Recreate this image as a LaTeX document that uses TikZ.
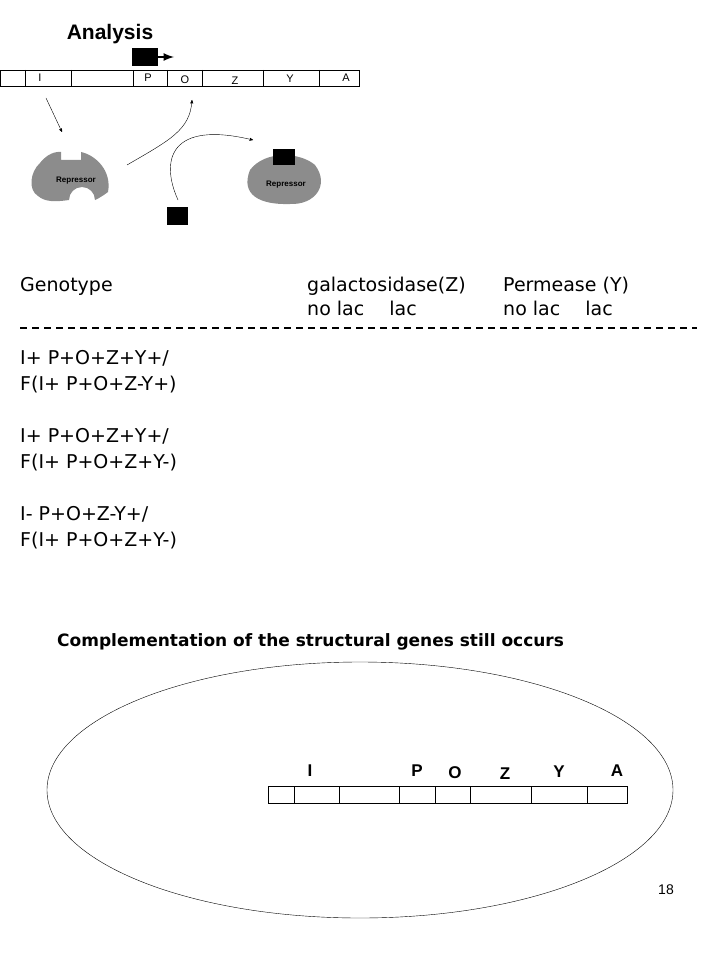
\documentclass[tikz,border=0pt]{standalone}
\usepackage{fontspec}
\setmainfont{DejaVu Sans}
\newfontfamily\headfont{Liberation Sans}
\usetikzlibrary{arrows,positioning}
\begin{document}
\begin{tikzpicture}[x=1pt,y=-1pt]

  % Styles
  \tikzstyle{gene}=[font=\headfont\fontsize{11}{12}\selectfont,anchor=center]
  \tikzstyle{bigene}=[font=\headfont\bfseries\fontsize{17}{19}\selectfont,anchor=center]
  \tikzstyle{txt}=[anchor=base west,inner sep=0pt,font=\fontsize{19}{21}\selectfont]
  \tikzstyle{blob}=[fill=gray!90,draw=none]
  \tikzstyle{to}=[->,>=stealth',thin]

  \useasboundingbox (0,0) rectangle (720,960);

  % Title and promoter
  \node[font=\headfont\bfseries\fontsize{21}{24}\selectfont] (title) at (110,34) {Analysis};
  \fill (132,48) rectangle (158,66);
  \draw[-latex,line width=2.5pt] (157,57) -- (174,57);

  % Operon bar top
  \draw (0,70) rectangle (359,86);
  \foreach \x in {25,71,133,167,202,263,319}
    \draw (\x,70) -- (\x,86);
  \node[gene] (gI) at (40,78) {I};
  \node[gene] (gP) at (148,78) {P};
  \node[gene] (gO) at (185,80) {O};
  \node[gene] (gZ) at (235,81) {Z};
  \node[gene] (gY) at (290,79) {Y};
  \node[gene] (gA) at (346,78) {A};

  % Free repressor
  \path[blob] (40,163) .. controls (50,150) and (61,152) .. (61,152) -- (61,160) -- (81,160) -- (81,152)
    .. controls (95,155) and (112,170) .. (108,192)
    .. controls (100,198) and (95,200) .. (95,200) arc (0:-180:13) -- (69,200)
    .. controls (55,202) and (45,202) .. (38,196)
    .. controls (28,190) and (30,172) .. (40,163);
  \node[font=\headfont\bfseries\fontsize{8}{9}\selectfont] (rep1) at (76,181) {Repressor};

  % Bound repressor
  \path[blob] (250,170) .. controls (265,150) and (300,152) .. (315,165)
    .. controls (330,185) and (315,205) .. (290,204)
    .. controls (260,205) and (240,195) .. (250,170);
  \fill (273,149) rectangle (295,165);
  \node[font=\headfont\bfseries\fontsize{8}{9}\selectfont] (rep2) at (286,185) {Repressor};

  % Inducer
  \coordinate (lig2) at (178,200);
  \fill (167,207) rectangle (188,225);

  % Arrows
  \draw[to] (46,98) -- (62,132);
  \draw[to] (127,165) .. controls (170,140) and (190,130) .. (192,100);
  \draw[to] (lig2) .. controls (160,160) and (170,120) .. (253,140);

  % Table
  \node[txt] (hgeno) at (20,291) {Genotype};
  \node[txt] (hgal) at (307,291) {galactosidase(Z)};
  \node[txt] (hper) at (503,291) {Permease (Y)};
  \node[txt] (hgal2) at (307,315) {no lac\quad\ lac};
  \node[txt] (hper2) at (503,315) {no lac\quad\ lac};
  \draw[dash pattern=on 7pt off 5pt,line width=1.3pt] (20,328) -- (697,328);
  \node[txt] (r1a) at (20,364) {I+ P+O+Z+Y+/};
  \node[txt] (r1b) at (20,390) {F(I+ P+O+Z-Y+)};
  \node[txt] (r2a) at (20,442) {I+ P+O+Z+Y+/};
  \node[txt] (r2b) at (20,468) {F(I+ P+O+Z+Y-)};
  \node[txt] (r3a) at (20,520) {I- P+O+Z-Y+/};
  \node[txt] (r3b) at (20,546) {F(I+ P+O+Z+Y-)};
  \node[txt,font=\bfseries\fontsize{17}{19}\selectfont] (compl) at (57,646) {Complementation of the structural genes still occurs};

  % Cell with F' chromosome
  \draw (360,790) ellipse [x radius=313,y radius=128];
  \draw (268,786) rectangle (627,803);
  \foreach \x in {294,339,399,435,470,531,587}
    \draw (\x,786) -- (\x,803);
  \node[bigene] (bI) at (310,771) {I};
  \node[bigene] (bP) at (417,771) {P};
  \node[bigene] (bO) at (455,773) {O};
  \node[bigene] (bZ) at (505,774) {Z};
  \node[bigene] (bY) at (559,772) {Y};
  \node[bigene] (bA) at (617,771) {A};

  \node[font=\headfont\fontsize{14}{16}\selectfont] (page) at (666,890) {18};
\end{tikzpicture}
\end{document}
